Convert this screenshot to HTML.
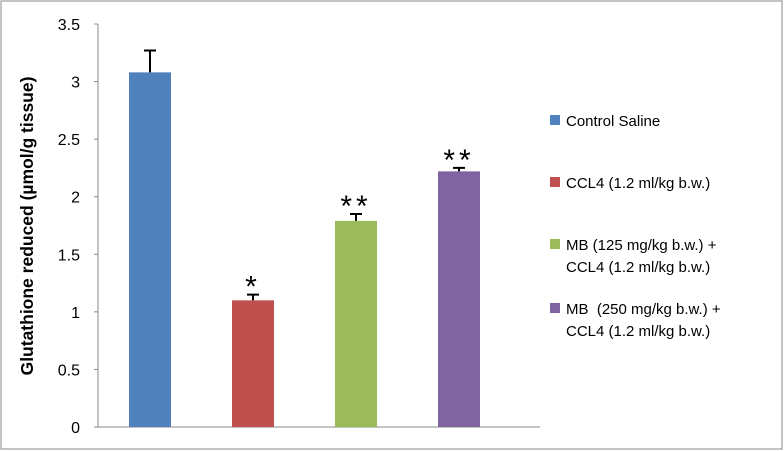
<!DOCTYPE html>
<html><head><meta charset="utf-8"><style>
body{margin:0;background:#fff;}
svg{display:block;font-family:"Liberation Sans",sans-serif;}
text{white-space:pre;}
</style></head><body>
<svg width="784" height="451">
<rect x="1" y="1" width="781" height="448" fill="#fff" stroke="#888" stroke-width="1"/>
<g id="plot"></g>
</svg>
<script>
const categories=["Control Saline","CCL4 (1.2 ml/kg b.w.)","MB (125 mg/kg b.w.) + CCL4 (1.2 ml/kg b.w.)","MB  (250 mg/kg b.w.) + CCL4 (1.2 ml/kg b.w.)"];
const values=[3.08,1.10,1.79,2.22];
const errors=[0.19,0.05,0.06,0.03];
const marks=["","*","**","**"];
const colors=["#4f81bd","#c0504d","#9bbb59","#8064a2"];
const ticks=[0,0.5,1,1.5,2,2.5,3,3.5];
const tickLabels=["0","0.5","1","1.5","2","2.5","3","3.5"];
const NS="http://www.w3.org/2000/svg";
const g=document.getElementById('plot');
const x0=98,y0=427,yTop=24,ymax=3.5,step=103,bw=42;
const y=v=>y0-(v/ymax)*(y0-yTop);
const xc=i=>x0+52+i*step;
function mk(t,a){const e=document.createElementNS(NS,t);for(const k in a)e.setAttribute(k,a[k]);g.appendChild(e);return e;}
let ax=mk('line',{x1:x0,y1:yTop,x2:x0,y2:y0,stroke:'#888'});


let bx=mk('line',{x1:x0-4,y1:y0,x2:540,y2:y0,stroke:'#888'});


ticks.forEach((t,i)=>{
 let l=mk('line',{x1:x0-4,y1:y(t),x2:x0,y2:y(t),stroke:'#888'});
 
 
 let tx=mk('text',{x:x0-18,y:y(t)+6,'text-anchor':'end','font-size':16,fill:'#000'});
 tx.textContent=tickLabels[i];
 
 
});
let yt=mk('text',{x:0,y:0,transform:'translate(33,226) rotate(-90)','text-anchor':'middle','font-size':17.5,'font-weight':'bold',fill:'#000'});
yt.textContent="Glutathione reduced (µmol/g tissue)";


values.forEach((v,i)=>{
 const cx=xc(i);
 let r=mk('rect',{x:cx-bw/2,y:y(v),width:bw,height:y0-y(v),fill:colors[i]});
 
 
 let e=mk('path',{d:`M${cx} ${y(v)}V${y(v+errors[i])}M${cx-6} ${y(v+errors[i])}H${cx+6}`,stroke:'#000','stroke-width':2,fill:'none'});
 
 
 if(marks[i]){
  let s=mk('text',{x:cx,y:y(v+errors[i])+2,'text-anchor':'middle','font-size':30,'letter-spacing':4,fill:'#000'});
  s.textContent=marks[i];
  
  
 }
});
const legY=[120,182,244,308];
const legLines=[["Control Saline"],["CCL4 (1.2 ml/kg b.w.)"],["MB (125 mg/kg b.w.) +","CCL4 (1.2 ml/kg b.w.)"],["MB  (250 mg/kg b.w.) +","CCL4 (1.2 ml/kg b.w.)"]];
categories.forEach((c,i)=>{
 let r=mk('rect',{x:550,y:legY[i]-5,width:10,height:10,fill:colors[i]});
 
 
 legLines[i].forEach((ln,j)=>{
  let t=mk('text',{x:566,y:legY[i]+6+j*22,'font-size':15,fill:'#000'});
  t.textContent=ln;
  
  
 });
});
</script>
</body></html>
